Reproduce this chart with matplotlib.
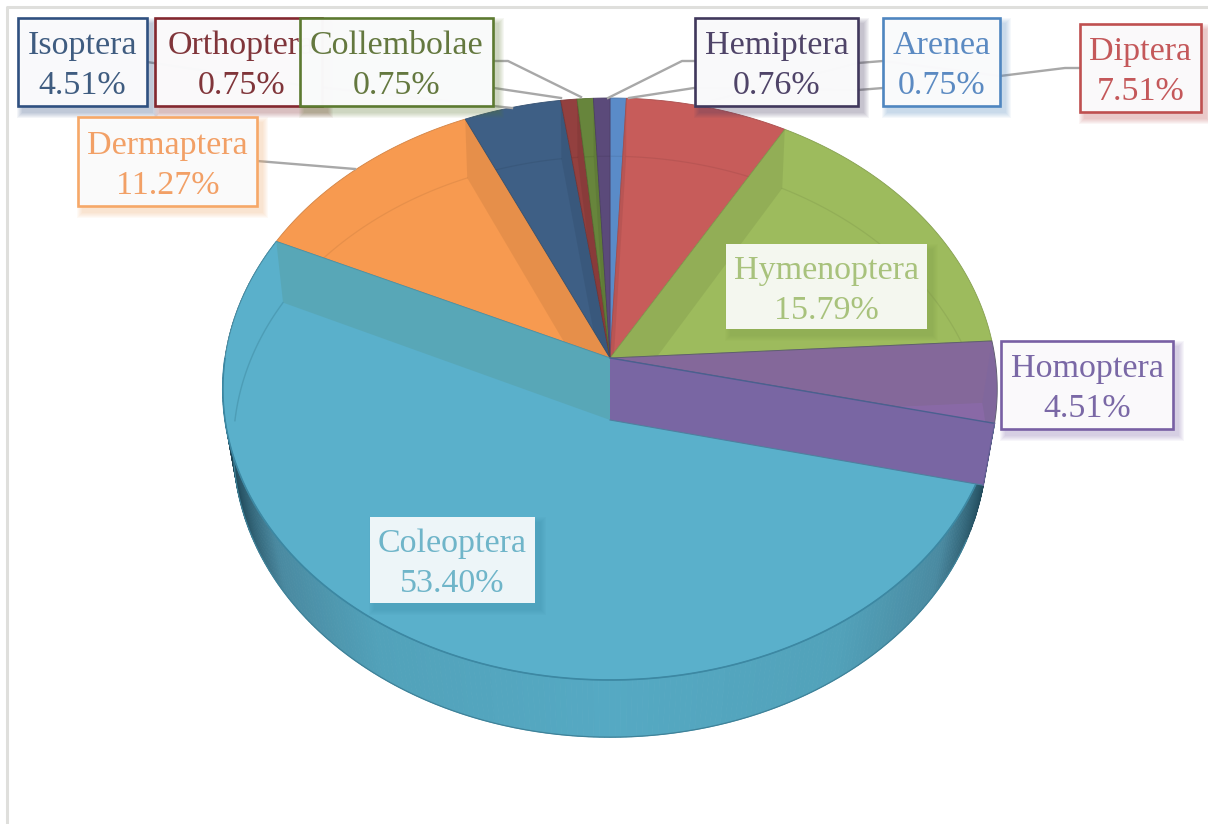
import numpy as np
import matplotlib
matplotlib.use("Agg")
import matplotlib.pyplot as plt
from matplotlib.collections import PolyCollection
from matplotlib.colors import to_rgb
from matplotlib.patches import Polygon, Rectangle

plt.rcParams['font.family'] = ['Liberation Serif', 'DejaVu Serif']

# slices, clockwise from twelve o'clock
names = ["Arenea", "Diptera", "Hymenoptera", "Homoptera", "Coleoptera",
         "Dermaptera", "Isoptera", "Orthoptera", "Collembolae", "Hemiptera"]
values = [0.75, 7.51, 15.79, 4.51, 53.40, 11.27, 4.51, 0.75, 0.75, 0.76]
colors = ["#5a8bc8", "#c75c5a", "#9dbb5d", "#84689a", "#5ab0cb",
          "#f79a50", "#3e5f85", "#93403f", "#67853c", "#5b4a7a"]
text_colors = ["#5b8ac2", "#c4585a", "#a8c27c", "#7a68a6", "#6fb5c9",
               "#f2a066", "#3f5c80", "#80353a", "#64783f", "#4f4468"]
border_colors = ["#4f86c0", "#bf5050", None, "#7860a4", None,
                 "#f6a868", "#2f5080", "#83282f", "#5c7a30", "#40385c"]

# label boxes: left, top, right, bottom
boxes = {
    "Isoptera": (18, 18, 147, 106),
    "Orthoptera": (155, 18, 322, 106),
    "Collembolae": (300, 18, 493, 106),
    "Dermaptera": (78, 117, 257, 206),
    "Hemiptera": (695, 18, 858, 106),
    "Arenea": (883, 18, 1000, 106),
    "Diptera": (1080, 24, 1201, 112),
    "Hymenoptera": (726, 244, 927, 329),
    "Homoptera": (1001, 341, 1173, 429),
    "Coleoptera": (370, 517, 535, 603),
}
leaders = [
    [(147, 62), (300, 85), (512, 108)],
    [(494, 88), (561, 98)],
    [(494, 61), (508, 61), (581, 97)],
    [(695, 61), (682, 61), (608, 98)],
    [(883, 88), (858, 90), (694, 88), (629, 98)],
    [(1080, 68), (1065, 68), (1000, 76), (883, 61), (858, 63), (695, 105)],
    [(257, 161), (355, 169)],
]

# perspective of the top and bottom discs
TOP = dict(cy=358, a=287.7, b=385, k=0.1065)
BOT = dict(cy=420, a=288, b=375, k=0.092)
CX = 610


def project(frac, disc):
    t = 2 * np.pi * np.asarray(frac)
    w = 1 + disc['k'] * np.cos(t)
    return np.column_stack((CX + disc['b'] * np.sin(t) / w,
                            disc['cy'] - disc['a'] * np.cos(t) / w))


def arc(f0, f1, disc):
    return project(np.linspace(f0, f1, max(int((f1 - f0) * 720), 4)), disc)


def wedge(f0, f1, disc):
    return np.vstack(([CX, disc['cy']], arc(f0, f1, disc)))


def radial_wall(f):
    p = project([f], TOP)[0]
    q = project([f], BOT)[0]
    return [[CX, TOP['cy']], p, q, [CX, BOT['cy']]]


def mix(c, other, t):
    c, other = np.array(to_rgb(c)), np.array(to_rgb(other))
    return tuple(c * (1 - t) + other * t)


fig = plt.figure(figsize=(12.08, 8.24), dpi=100)
ax = fig.add_axes([0, 0, 1, 1])
ax.set_xlim(0, 1208)
ax.set_ylim(824, 0)
ax.axis('off')

# frame of the chart area
ax.plot([7, 7, 1208], [824, 7, 7], color="#dfdfdc", lw=2.2, zorder=0)

bounds = np.concatenate(([0], np.cumsum(values))) / sum(values)
idx = {n: i for i, n in enumerate(names)}
col_i = idx["Coleoptera"]
hom_i = idx["Homoptera"]

# outer rim of the big slice, shaded towards the sides
f0, f1 = bounds[col_i], bounds[col_i + 1]
steps = np.linspace(f0, f1, 260)
t_pts, b_pts = project(steps, TOP), project(steps, BOT)
quads, shades = [], []
for j in range(len(steps) - 1):
    quads.append([t_pts[j], t_pts[j + 1], b_pts[j + 1], b_pts[j]])
    s = abs(b_pts[j][0] - CX) / 375
    if s < 0.6:
        shades.append(mix("#55a9c3", "#52a2ba", s / 0.6))
    elif s < 0.86:
        shades.append(mix("#52a2ba", "#4a8aa1", (s - 0.6) / 0.26))
    else:
        shades.append(mix("#4a8aa1", "#1f4656", min((s - 0.86) / 0.14, 1)))
ax.add_collection(PolyCollection(quads, facecolors=shades, edgecolors=shades,
                                 linewidths=0.6, zorder=1))
ax.plot(*arc(f0 + 0.03, f1 - 0.08, BOT).T, color="#3f8299", lw=0.9, zorder=1)

# back slices: top face, inner walls and the far edge of the bottom disc
for i, name in enumerate(names):
    if i in (col_i, hom_i):
        continue
    f0, f1 = bounds[i], bounds[i + 1]
    dark = mix(colors[i], "#000000", 0.3)
    face = Polygon(wedge(f0, f1, TOP), closed=True, fc=colors[i],
                   ec=mix(colors[i], "#000000", 0.15), lw=0.6, zorder=2)
    ax.add_patch(face)
    for f in (f0, f1):
        wall = Polygon(radial_wall(f), closed=True, fc=dark, ec='none',
                       alpha=0.22, zorder=2.1)
        ax.add_patch(wall)
        wall.set_clip_path(face)
    line, = ax.plot(*arc(f0, f1, BOT).T, color=dark, lw=0.9, alpha=0.22, zorder=2.2)
    line.set_clip_path(face)

# big front slice, its inner wall and the faint far arc of its bottom disc
f0, f1 = bounds[col_i], bounds[col_i + 1]
face = Polygon(wedge(f0, f1, TOP), closed=True, fc=colors[col_i],
               ec="#4a8fa6", lw=0.7, zorder=3)
ax.add_patch(face)
ax.add_patch(Polygon(radial_wall(f1), closed=True, fc="#57a0a8", ec='none',
                     alpha=0.55, zorder=3.1))
ax.plot(*arc(f1 - 0.07, f1, BOT).T, color="#4d9db6", lw=1.0, zorder=3.2)
ax.plot(*arc(f0 + 0.02, f1 - 0.07, TOP).T, color="#3c88a3", lw=1.2, zorder=3.2)

# narrow slice on the right, whose inner wall sits in front
f0, f1 = bounds[hom_i], bounds[hom_i + 1]
face = Polygon(wedge(f0, f1, TOP), closed=True, fc=colors[hom_i],
               ec="#5f5f6f", lw=0.7, zorder=4)
ax.add_patch(face)
lighter = Polygon(wedge(f0, f1, BOT), closed=True, fc="#8a6aa8", ec='none',
                  alpha=0.9, zorder=4.1)
ax.add_patch(lighter)
lighter.set_clip_path(face)
rim = np.vstack((arc(f0, f1, TOP), arc(f0, f1, BOT)[::-1]))
rim_patch = Polygon(rim, closed=True, fc="#7d66a0", ec='none', alpha=0.45, zorder=4.2)
ax.add_patch(rim_patch)
rim_patch.set_clip_path(face)
ax.add_patch(Polygon(radial_wall(f1), closed=True, fc="#7966a3", ec='none', zorder=4.3))
ax.plot(*np.array(radial_wall(f1)[:2]).T, color="#4a6090", lw=1.0, zorder=4.4)
ax.plot(*np.array(radial_wall(f1)[2:]).T, color="#4f7f9f", lw=0.8, zorder=4.4)
ax.plot(*np.array(radial_wall(f1)[1:3]).T, color="#6a6098", lw=1.0, zorder=4.4)

# leader lines run underneath the label boxes
for pts in leaders:
    xs, ys = zip(*pts)
    ax.plot(xs, ys, color="#a8a8a8", lw=1.7, solid_joinstyle='round', zorder=5)

# labels, later boxes cover earlier ones
order = ["Isoptera", "Orthoptera", "Collembolae", "Dermaptera", "Hemiptera",
         "Arenea", "Diptera", "Hymenoptera", "Homoptera", "Coleoptera"]
z = 6
for name in order:
    i = idx[name]
    x0, y0, x1, y1 = boxes[name]
    edge = border_colors[i]
    box_alpha = 0.98
    if name == "Hymenoptera":
        sh, fill, box_alpha = "#7f9a48", "#f4f7ef", 1
    elif name == "Coleoptera":
        sh, fill, box_alpha = "#3f8aa5", "#edf5f8", 1
    else:
        sh, fill = edge, "#fbfbfc"
    # soft drop shadow from stacked rectangles
    for g in range(6, 0, -1):
        ax.add_patch(Rectangle((x0 + 5 - g, y0 + 6 - g), x1 - x0 + 2 * g, y1 - y0 + 2 * g,
                               fc=sh, ec='none', alpha=0.055, zorder=z))
    ax.add_patch(Rectangle((x0, y0), x1 - x0, y1 - y0, fc=fill, alpha=box_alpha,
                           ec='none', zorder=z + 0.1))
    if edge is not None:
        ax.add_patch(Rectangle((x0, y0), x1 - x0, y1 - y0, fc='none', ec=edge,
                               lw=1.9, zorder=z + 0.2))
    # the long name sits a little right so its last letter stays under the next box
    xc = (x0 + x1) / 2 + (3 if name == "Orthoptera" else 0)
    ym = (y0 + y1) / 2 + 4
    ax.text(xc, ym - 20, name, color=text_colors[i], fontsize=24.5, ha='center',
            va='center', zorder=z + 0.3)
    ax.text(xc, ym + 20, "{:.2f}%".format(values[i]), color=text_colors[i], fontsize=24.5,
            ha='center', va='center', zorder=z + 0.3)
    z += 1

fig.savefig("out.png", dpi=100, facecolor="white")
